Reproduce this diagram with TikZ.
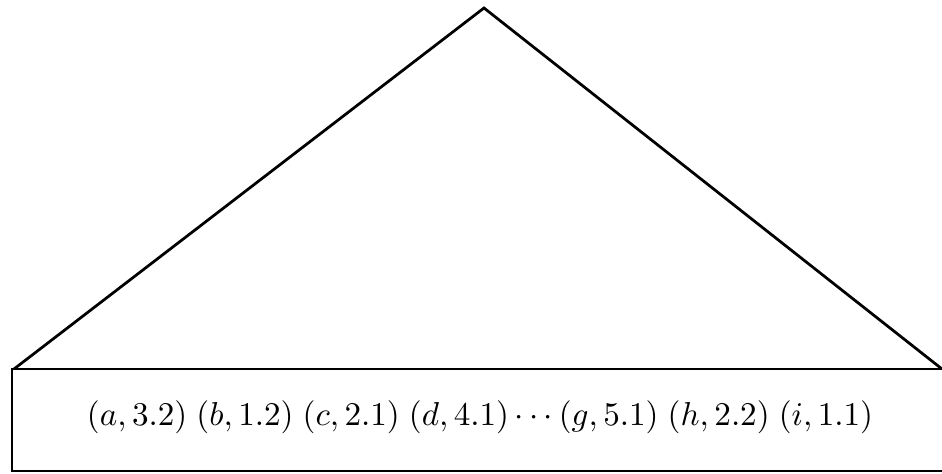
\documentclass[tikz,border=0pt]{standalone}
\usepackage{graphicx}
\begin{document}
\begin{tikzpicture}[x=0.4pt,y=-0.4pt,
  edge/.style={line width=1.1pt, line join=miter},
  lbl/.style={inner sep=0pt}]
\useasboundingbox (0,0) rectangle (942,474);
\coordinate (apex) at (484,8);
\coordinate (bl) at (14,369);
\coordinate (br) at (942,369);
\coordinate (rtl) at (12,369);
\coordinate (rbr) at (946,471);
\draw[edge] (bl) -- (apex) -- (br);
\draw[edge] (rtl) rectangle (rbr);
\node[lbl] (seq) at (480,417) {\scalebox{1.325}{$(a,3.2)\;(b,1.2)\;(c,2.1)\;(d,4.1)\cdots(g,5.1)\;(h,2.2)\;(i,1.1)$}};
\end{tikzpicture}
\end{document}
